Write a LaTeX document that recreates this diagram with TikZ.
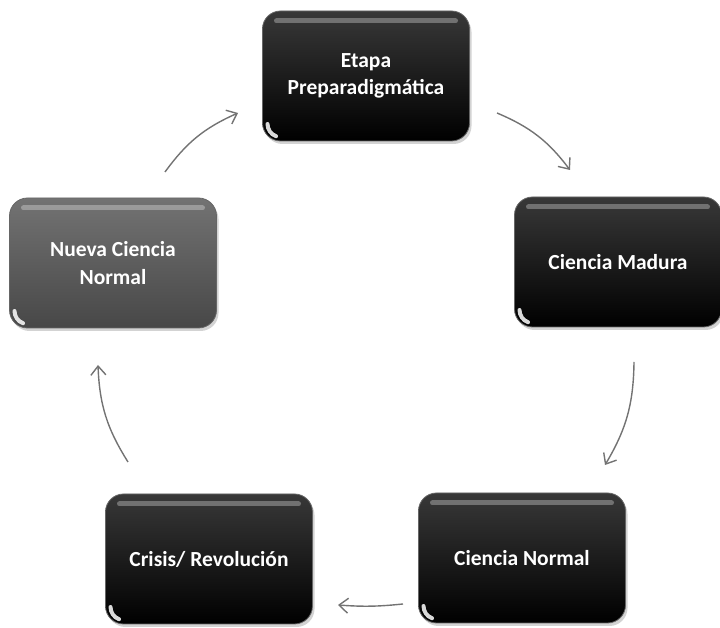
\documentclass[tikz,border=0pt]{standalone}
\usepackage{fontspec}
\setmainfont{Carlito}
\usepackage{tikz}
\usetikzlibrary{positioning,calc,arrows.meta,shadows}

\begin{document}
\begin{tikzpicture}[x=1pt,y=1pt,
  etapa/.style={rectangle,rounded corners=18pt,minimum width=207pt,minimum height=130pt,
    align=center,text=white,font=\fontsize{21.5}{27.5}\selectfont\bfseries,
    top color=black!78,bottom color=black,draw=black!60,line width=0.8pt,
    drop shadow={opacity=0.35,shadow xshift=2pt,shadow yshift=-3pt},
    path picture={
      \draw[white,opacity=0.3,line width=5pt,line cap=round]
        ($(path picture bounding box.north west)+(14,-10)$) -- ($(path picture bounding box.north east)+(-14,-10)$);
      \draw[white,opacity=0.85,line width=4pt,line cap=round]
        ($(path picture bounding box.south west)+(5,17)$) arc[start angle=180,end angle=250,radius=13pt];
    }},
  gris/.style={top color=black!55,bottom color=black!72},
  flecha/.style={draw=black!55,line width=1.4pt,-{Straight Barb[length=9pt,width=15pt]},bend left=15}]
  \useasboundingbox (0,0) rectangle (720,628);
  \node[etapa] (pre) at (366,552) {Etapa\\Preparadigmática};
  \node[etapa] (madura) at (618,366) {Ciencia Madura};
  \node[etapa] (normal) at (522,70) {Ciencia Normal};
  \node[etapa] (crisis) at (209,69) {Crisis/ Revolución};
  \node[etapa,gris] (nueva) at (113,365) {Nueva Ciencia\\Normal};
  % extremos de las flechas
  \coordinate (f1a) at (165,456); \coordinate (f1b) at (238,515);
  \coordinate (f2a) at (497,515); \coordinate (f2b) at (570,458);
  \coordinate (f3a) at (634,266); \coordinate (f3b) at (605,163);
  \coordinate (f4a) at (403,24);  \coordinate (f4b) at (338,23);
  \coordinate (f5a) at (128,166); \coordinate (f5b) at (98,263);
  \draw[flecha] (f1a) to (f1b);
  \draw[flecha] (f2a) to (f2b);
  \draw[flecha] (f3a) to (f3b);
  \draw[flecha,bend left=5] (f4a) to (f4b);
  \draw[flecha] (f5a) to (f5b);
\end{tikzpicture}
\end{document}
